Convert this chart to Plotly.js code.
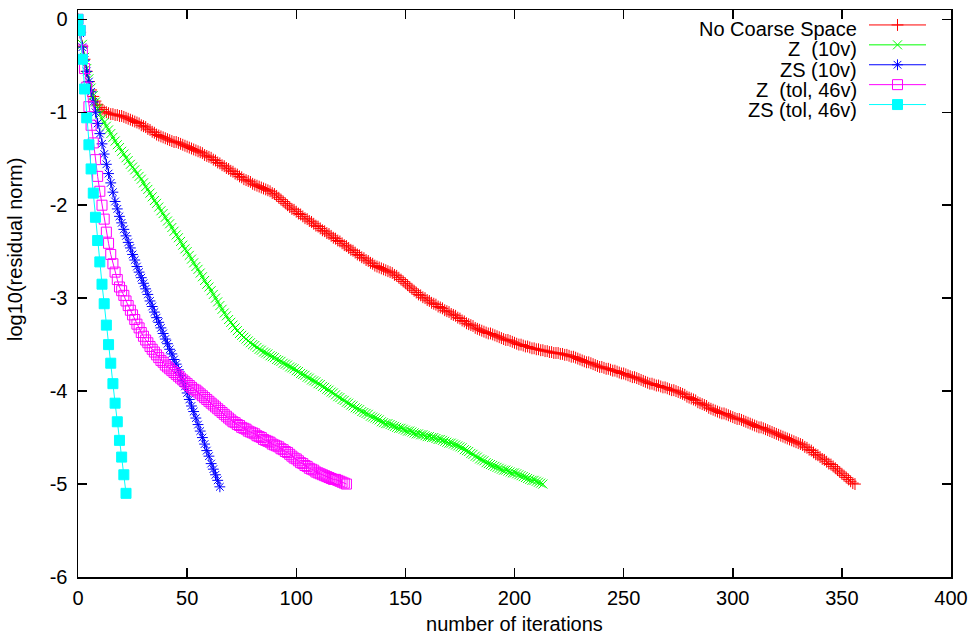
<!DOCTYPE html>
<html>
<head>
<meta charset="utf-8">
<script src="https://cdn.plot.ly/plotly-3.0.1.min.js"></script>
<style>html,body{margin:0;padding:0;background:#fff;}#chart{width:971px;height:637px;}</style>
</head>
<body>
<div id="chart"></div>
<script>
// Series names
const seriesNames = ["No Coarse Space", "Z\u00a0 (10v)", "ZS (10v)", "Z\u00a0 (tol, 46v)", "ZS (tol, 46v)"];

// log10(residual norm) per iteration (iteration = index)
const noCoarse = [0,-0.14,-0.29,-0.43,-0.56,-0.67,-0.76,-0.83,-0.88,-0.92,
-0.95,-0.97,-0.99,-1.00,-1.01,-1.02,-1.02,-1.03,-1.03,-1.04,
-1.04,-1.05,-1.06,-1.07,-1.08,-1.09,-1.10,-1.11,-1.12,-1.14,
-1.15,-1.16,-1.18,-1.19,-1.21,-1.22,-1.24,-1.25,-1.26,-1.27,
-1.28,-1.29,-1.30,-1.31,-1.32,-1.32,-1.33,-1.34,-1.35,-1.36,
-1.37,-1.38,-1.39,-1.40,-1.41,-1.42,-1.43,-1.44,-1.46,-1.47,
-1.48,-1.49,-1.51,-1.52,-1.54,-1.55,-1.57,-1.58,-1.60,-1.61,
-1.63,-1.64,-1.66,-1.67,-1.69,-1.70,-1.72,-1.73,-1.74,-1.75,
-1.77,-1.78,-1.79,-1.80,-1.81,-1.82,-1.83,-1.84,-1.85,-1.87,
-1.88,-1.90,-1.92,-1.94,-1.96,-1.98,-2.00,-2.02,-2.04,-2.05,
-2.07,-2.09,-2.10,-2.12,-2.14,-2.15,-2.17,-2.18,-2.20,-2.22,
-2.23,-2.25,-2.27,-2.28,-2.30,-2.31,-2.33,-2.35,-2.36,-2.38,
-2.39,-2.41,-2.43,-2.44,-2.46,-2.48,-2.49,-2.51,-2.53,-2.54,
-2.56,-2.57,-2.59,-2.60,-2.62,-2.63,-2.65,-2.66,-2.67,-2.68,
-2.69,-2.70,-2.71,-2.72,-2.73,-2.75,-2.76,-2.78,-2.80,-2.82,
-2.84,-2.86,-2.88,-2.90,-2.92,-2.94,-2.96,-2.97,-2.99,-3.00,
-3.02,-3.03,-3.05,-3.06,-3.07,-3.09,-3.10,-3.11,-3.13,-3.14,
-3.15,-3.17,-3.18,-3.19,-3.21,-3.22,-3.24,-3.25,-3.27,-3.28,
-3.29,-3.30,-3.32,-3.33,-3.34,-3.35,-3.36,-3.37,-3.38,-3.38,
-3.39,-3.40,-3.41,-3.42,-3.43,-3.44,-3.45,-3.45,-3.46,-3.47,
-3.48,-3.49,-3.50,-3.50,-3.51,-3.52,-3.52,-3.53,-3.54,-3.54,
-3.55,-3.55,-3.56,-3.56,-3.57,-3.57,-3.58,-3.58,-3.59,-3.59,
-3.59,-3.60,-3.60,-3.61,-3.61,-3.62,-3.63,-3.63,-3.64,-3.65,
-3.66,-3.67,-3.68,-3.69,-3.69,-3.70,-3.71,-3.72,-3.73,-3.74,
-3.74,-3.75,-3.76,-3.76,-3.77,-3.78,-3.78,-3.79,-3.80,-3.81,
-3.81,-3.82,-3.83,-3.84,-3.85,-3.85,-3.86,-3.87,-3.88,-3.89,
-3.90,-3.91,-3.92,-3.92,-3.93,-3.94,-3.94,-3.95,-3.96,-3.96,
-3.97,-3.98,-3.99,-3.99,-4.00,-4.01,-4.02,-4.03,-4.04,-4.06,
-4.07,-4.08,-4.09,-4.10,-4.12,-4.13,-4.14,-4.15,-4.16,-4.18,
-4.19,-4.20,-4.21,-4.22,-4.23,-4.24,-4.24,-4.25,-4.26,-4.27,
-4.28,-4.29,-4.30,-4.30,-4.31,-4.32,-4.33,-4.34,-4.35,-4.36,
-4.37,-4.38,-4.39,-4.39,-4.40,-4.41,-4.42,-4.43,-4.44,-4.45,
-4.46,-4.47,-4.48,-4.49,-4.50,-4.51,-4.52,-4.53,-4.54,-4.55,
-4.56,-4.57,-4.58,-4.60,-4.61,-4.63,-4.64,-4.66,-4.68,-4.69,
-4.71,-4.73,-4.74,-4.76,-4.78,-4.79,-4.81,-4.83,-4.85,-4.87,
-4.89,-4.91,-4.93,-4.95,-4.97,-4.99,-5.00];

const z10v = [0,-0.13,-0.27,-0.41,-0.53,-0.64,-0.74,-0.82,-0.89,-0.96,
-1.02,-1.07,-1.11,-1.15,-1.19,-1.23,-1.27,-1.31,-1.35,-1.38,
-1.42,-1.45,-1.49,-1.52,-1.56,-1.59,-1.62,-1.66,-1.69,-1.72,
-1.76,-1.80,-1.83,-1.87,-1.91,-1.95,-1.98,-2.02,-2.06,-2.09,
-2.13,-2.17,-2.20,-2.24,-2.28,-2.32,-2.35,-2.39,-2.43,-2.47,
-2.50,-2.54,-2.58,-2.62,-2.66,-2.69,-2.73,-2.77,-2.81,-2.85,
-2.88,-2.92,-2.96,-3.00,-3.04,-3.08,-3.12,-3.16,-3.19,-3.23,
-3.26,-3.29,-3.32,-3.35,-3.38,-3.40,-3.42,-3.44,-3.46,-3.48,
-3.50,-3.51,-3.53,-3.55,-3.56,-3.58,-3.59,-3.60,-3.62,-3.63,
-3.64,-3.66,-3.67,-3.68,-3.70,-3.71,-3.72,-3.74,-3.75,-3.76,
-3.78,-3.79,-3.81,-3.82,-3.83,-3.85,-3.86,-3.88,-3.89,-3.90,
-3.92,-3.93,-3.95,-3.96,-3.98,-3.99,-4.01,-4.02,-4.04,-4.06,
-4.07,-4.09,-4.10,-4.12,-4.13,-4.15,-4.16,-4.18,-4.19,-4.20,
-4.22,-4.23,-4.24,-4.25,-4.27,-4.28,-4.29,-4.30,-4.31,-4.33,
-4.34,-4.35,-4.35,-4.36,-4.37,-4.38,-4.39,-4.40,-4.40,-4.41,
-4.42,-4.43,-4.43,-4.44,-4.45,-4.46,-4.46,-4.47,-4.47,-4.48,
-4.49,-4.49,-4.50,-4.50,-4.51,-4.52,-4.52,-4.53,-4.54,-4.55,
-4.56,-4.56,-4.57,-4.58,-4.59,-4.60,-4.61,-4.63,-4.64,-4.65,
-4.67,-4.68,-4.70,-4.71,-4.73,-4.74,-4.75,-4.77,-4.78,-4.79,
-4.80,-4.81,-4.82,-4.83,-4.84,-4.85,-4.85,-4.86,-4.87,-4.88,
-4.88,-4.89,-4.90,-4.91,-4.92,-4.93,-4.94,-4.95,-4.96,-4.96,
-4.97,-4.98,-4.99,-5.00];

const zs10v = [0,-0.15,-0.30,-0.44,-0.56,-0.67,-0.78,-0.89,-1.00,-1.12,
-1.23,-1.34,-1.45,-1.56,-1.66,-1.76,-1.86,-1.96,-2.04,-2.12,
-2.19,-2.26,-2.33,-2.40,-2.46,-2.53,-2.59,-2.66,-2.72,-2.78,
-2.84,-2.90,-2.96,-3.03,-3.09,-3.15,-3.21,-3.26,-3.32,-3.38,
-3.44,-3.49,-3.55,-3.60,-3.66,-3.71,-3.77,-3.83,-3.89,-3.95,
-4.02,-4.09,-4.16,-4.22,-4.29,-4.36,-4.43,-4.50,-4.57,-4.64,
-4.70,-4.78,-4.84,-4.90,-4.96,-5.03];

const zTol46v = [0,-0.12,-0.33,-0.53,-0.73,-0.94,-1.14,-1.33,-1.51,-1.69,
-1.85,-2.00,-2.15,-2.29,-2.41,-2.53,-2.63,-2.72,-2.80,-2.88,
-2.92,-2.97,-3.03,-3.08,-3.13,-3.18,-3.23,-3.28,-3.32,-3.37,
-3.41,-3.45,-3.48,-3.52,-3.55,-3.58,-3.61,-3.64,-3.67,-3.69,
-3.72,-3.74,-3.76,-3.78,-3.80,-3.82,-3.84,-3.86,-3.88,-3.90,
-3.92,-3.94,-3.96,-3.98,-3.99,-4.01,-4.03,-4.05,-4.07,-4.09,
-4.11,-4.13,-4.15,-4.17,-4.19,-4.21,-4.23,-4.25,-4.27,-4.29,
-4.31,-4.33,-4.34,-4.36,-4.37,-4.39,-4.40,-4.41,-4.43,-4.44,
-4.45,-4.46,-4.48,-4.49,-4.50,-4.52,-4.53,-4.54,-4.55,-4.57,
-4.58,-4.59,-4.60,-4.62,-4.63,-4.65,-4.66,-4.68,-4.70,-4.72,
-4.73,-4.75,-4.77,-4.78,-4.80,-4.81,-4.83,-4.84,-4.85,-4.87,
-4.88,-4.89,-4.90,-4.91,-4.92,-4.93,-4.94,-4.95,-4.95,-4.96,
-4.97,-4.98,-4.99,-5.00];

const zsTol46v = [0,-0.12,-0.43,-0.75,-1.06,-1.35,-1.61,-1.87,-2.13,-2.38,
-2.61,-2.85,-3.06,-3.29,-3.50,-3.70,-3.92,-4.13,-4.33,-4.53,
-4.71,-4.90,-5.10];

// Axis ticks and titles
const xTicks = [0, 50, 100, 150, 200, 250, 300, 350, 400];
const yTicks = [0, -1, -2, -3, -4, -5, -6];
const xTitle = "number of iterations";
const yTitle = "log10(residual norm)";

const allSeries = [noCoarse, z10v, zs10v, zTol46v, zsTol46v];
const colors = ["#ff0000", "#00ff00", "#0000ff", "#ff00ff", "#00ffff"];
const symbols = ["cross-thin-open", "x-thin-open", "asterisk-open", "square-open", "square"];
const sizes = [8.5, 9, 9, 10, 10];

function styleOf(k) {
  return {
    line: {color: colors[k], width: 1},
    marker: {symbol: symbols[k], size: sizes[k], color: colors[k],
             line: {color: colors[k], width: 1}}
  };
}

// data traces
const traces = allSeries.map((vals, k) => Object.assign({
  type: "scatter",
  mode: "lines+markers",
  name: seriesNames[k],
  showlegend: false,
  x: vals.map((v, i) => i),
  y: vals
}, styleOf(k)));

// legend key samples (gnuplot style: text on the left, sample on the right)
const keyTraces = allSeries.map((vals, k) => Object.assign({
  type: "scatter", mode: "lines+markers", name: "",
  x: [null], y: [null], showlegend: true, hoverinfo: "skip"
}, styleOf(k)));

const font = {family: "Liberation Sans, Arial, sans-serif", size: 20, color: "#000"};

// key text rows (pixel rows converted to paper fractions of the plot area)
const plotTop = 10, plotBottom = 577, plotLeft = 78, plotRight = 951;
const keyRowsPx = [29, 49.25, 69.5, 89.75, 110];
const keyTextRightPx = 858;
const annotations = seriesNames.map((n, k) => ({
  xref: "paper", yref: "paper",
  x: (keyTextRightPx - plotLeft) / (plotRight - plotLeft),
  y: (plotBottom - keyRowsPx[k]) / (plotBottom - plotTop),
  xanchor: "right", yanchor: "middle", showarrow: false,
  text: n, font: font, borderpad: 0
}));
annotations.push({
  xref: "paper", yref: "paper",
  x: (15 - plotLeft) / (plotRight - plotLeft),
  y: (plotBottom - 250) / (plotBottom - plotTop),
  xanchor: "center", yanchor: "middle", showarrow: false,
  textangle: -90, text: yTitle, font: font
});

const axisCommon = {
  showgrid: false, zeroline: false, showline: true, linecolor: "#000", linewidth: 1.5,
  mirror: "ticks", ticks: "inside", ticklen: 9, tickwidth: 1.5, tickcolor: "#000",
  tickfont: font
};

const layout = {
  width: 971, height: 637,
  margin: {l: plotLeft, r: 971 - plotRight, t: plotTop, b: 637 - plotBottom},
  paper_bgcolor: "#fff", plot_bgcolor: "#fff",
  font: font,
  showlegend: true,
  legend: {x: (864 - plotLeft) / (plotRight - plotLeft), xanchor: "left", y: 1.0, yanchor: "top",
           bgcolor: "rgba(0,0,0,0)", font: {family: font.family, size: 13, color: "#000"},
           tracegroupgap: 0, itemwidth: 57},
  annotations: annotations,
  xaxis: Object.assign({}, axisCommon, {
    range: [0, 400], tickvals: xTicks, ticktext: xTicks.map(String),
    ticklabelstandoff: 2,
    title: {text: xTitle, font: font, standoff: 9}
  }),
  yaxis: Object.assign({}, axisCommon, {
    range: [-6, 0.1], tickvals: yTicks, ticktext: yTicks.map(String),
    ticklabelstandoff: 5
  })
};

Plotly.newPlot("chart", traces.concat(keyTraces), layout, {displayModeBar: false, staticPlot: true});
</script>
</body>
</html>
